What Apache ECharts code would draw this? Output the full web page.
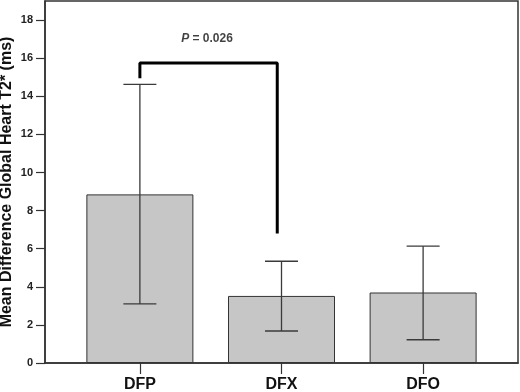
<!DOCTYPE html>
<html>
<head>
<meta charset="utf-8">
<script src="https://cdn.jsdelivr.net/npm/echarts@6/dist/echarts.min.js"></script>
<style>
  html, body { margin: 0; padding: 0; background: #fff; }
  #chart { width: 520px; height: 392px; }
</style>
</head>
<body>
<div id="chart"></div>
<script>
// 数据
const groups = ['DFP', 'DFX', 'DFO'];
const groupPos = [1, 2, 3];
const meanDiff = [8.85, 3.52, 3.70];
const errLow = [3.10, 1.68, 1.22];
const errHigh = [14.62, 5.34, 6.13];
const yTicks = [0, 2, 4, 6, 8, 10, 12, 14, 16, 18];
// significance bracket DFP vs DFX
const bracket = [[1, 14.95], [1, 15.75], [1.97, 15.75], [1.97, 6.8]];
const pPos = [1.474, 17.0];

const font = '"Liberation Sans", Arial, sans-serif';
const chart = echarts.init(document.getElementById('chart'));

const option = {
  animation: false,
  backgroundColor: '#fff',
  grid: {
    left: 45, right: 2, top: 1, bottom: 29,
    outerBoundsMode: 'none',
    containLabel: false,
    show: true,
    borderColor: '#333',
    borderWidth: 1.5
  },
  xAxis: {
    type: 'value',
    min: 0.33,
    max: 3.67,
    axisLine: { show: true, lineStyle: { color: '#333', width: 1.5 } },
    axisTick: { show: true, customValues: groupPos, length: 11, lineStyle: { color: '#333', width: 1.2 } },
    axisLabel: {
      customValues: groupPos,
      formatter: v => groups[Math.round(v) - 1] || '',
      fontFamily: font, fontWeight: 'bold', fontSize: 16, color: '#111', margin: 14
    },
    splitLine: { show: false }
  },
  yAxis: {
    type: 'value',
    min: 0,
    max: 19,
    name: 'Mean Difference Global Heart T2* (ms)',
    nameLocation: 'middle',
    nameGap: 30,
    nameMoveOverlap: false,
    nameTextStyle: { fontFamily: font, fontWeight: 'bold', fontSize: 16, color: '#111' },
    axisLine: { show: true, lineStyle: { color: '#333', width: 1.5 } },
    axisTick: { show: true, inside: false, customValues: yTicks, length: 9, lineStyle: { color: '#333', width: 1.2 } },
    axisLabel: {
      customValues: yTicks,
      inside: false,
      fontFamily: font, fontWeight: 'bold', fontSize: 11, color: '#222', margin: 12
    },
    splitLine: { show: false }
  },
  series: [
    {
      type: 'bar',
      barWidth: 107,
      data: groupPos.map((x, i) => [x, meanDiff[i]]),
      itemStyle: { color: '#c6c6c6', borderColor: '#333', borderWidth: 1 },
      z: 2
    },
    {
      type: 'custom',
      data: groupPos.map((x, i) => [x, errLow[i], errHigh[i]]),
      renderItem: (params, api) => {
        const lo = api.coord([api.value(0), api.value(1)]);
        const hi = api.coord([api.value(0), api.value(2)]);
        const half = 16.5;
        const style = { stroke: '#3a3a3a', lineWidth: 1.3 };
        return {
          type: 'group',
          children: [
            { type: 'line', shape: { x1: hi[0], y1: hi[1], x2: lo[0], y2: lo[1] }, style },
            { type: 'line', shape: { x1: hi[0] - half, y1: hi[1], x2: hi[0] + half, y2: hi[1] }, style },
            { type: 'line', shape: { x1: lo[0] - half, y1: lo[1], x2: lo[0] + half, y2: lo[1] }, style }
          ]
        };
      },
      z: 3
    },
    {
      type: 'line',
      data: bracket,
      symbol: 'none',
      lineStyle: { color: '#000', width: 3 },
      z: 4
    },
    {
      type: 'scatter',
      data: [pPos],
      symbolSize: 0,
      label: {
        show: true,
        position: 'inside',
        formatter: '{i|P} = 0.026',
        fontFamily: font, fontWeight: 'bold', fontSize: 12, color: '#111',
        rich: { i: { fontStyle: 'italic', fontFamily: font, fontWeight: 'bold', fontSize: 12, color: '#111' } }
      },
      silent: true
    }
  ]
};
chart.setOption(option);
</script>
</body>
</html>
